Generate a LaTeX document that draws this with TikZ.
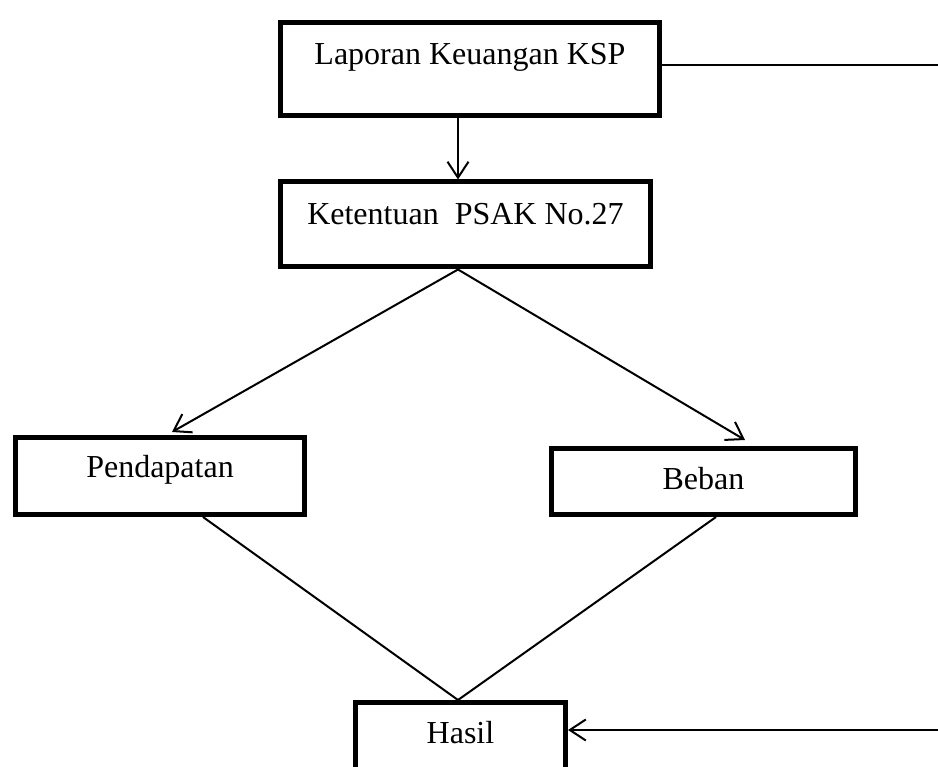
\documentclass[tikz,border=0pt]{standalone}
\usepackage{fontspec}
\setmainfont{Liberation Serif}
\usetikzlibrary{arrows.meta,calc}
\begin{document}
\begin{tikzpicture}[x=1pt,y=-1pt,
  box/.style={draw, line width=5pt, rectangle, inner xsep=0pt, inner ysep=0pt,
    font=\fontsize{32}{38}\selectfont, anchor=north west},
  conn/.style={line width=2pt},
  arr/.style={conn, -{Straight Barb[length=16pt,width=21pt,line width=2pt]}}]
\useasboundingbox (0,0) rectangle (938,767);
\node[box, minimum width=379pt, text height=41.5pt, text depth=51.5pt] (lap) at (278,20.5) {Laporan Keuangan KSP};
\node[box, minimum width=370pt, text height=42.5pt, text depth=42.5pt] (ket) at (278,179.5) {Ketentuan\ \ PSAK No.27};
\node[box, minimum width=289pt, text height=40pt, text depth=37pt] (pen) at (13,435) {Pendapatan};
\node[box, minimum width=304pt, text height=41pt, text depth=25pt] (beb) at (549,446) {Beban};
\node[box, minimum width=210pt, text height=41pt, text depth=40pt] (has) at (353,700) {Hasil};
\coordinate (r1) at (938,65);
\coordinate (r2) at (938,730);
\coordinate (kx) at (458,0);
\coordinate (pt) at (172,0);
\coordinate (bt) at (745,0);
\coordinate (pb) at (203,0);
\coordinate (bb) at (716,0);
\draw[arr] (lap.south -| kx) -- (ket.north -| kx);
\draw[conn] (lap.east |- r1) -- (r1);
\draw[arr] (ket.south -| kx) -- ($(pen.north -| pt)+(0,-3)$);
\draw[arr] (ket.south -| kx) -- ($(beb.north -| bt)+(0,-6)$);
\draw[conn] (pen.south -| pb) -- (has.north -| kx);
\draw[conn] (beb.south -| bb) -- (has.north -| kx);
\draw[arr] (r2) -- (has.east |- r2);
\end{tikzpicture}
\end{document}
